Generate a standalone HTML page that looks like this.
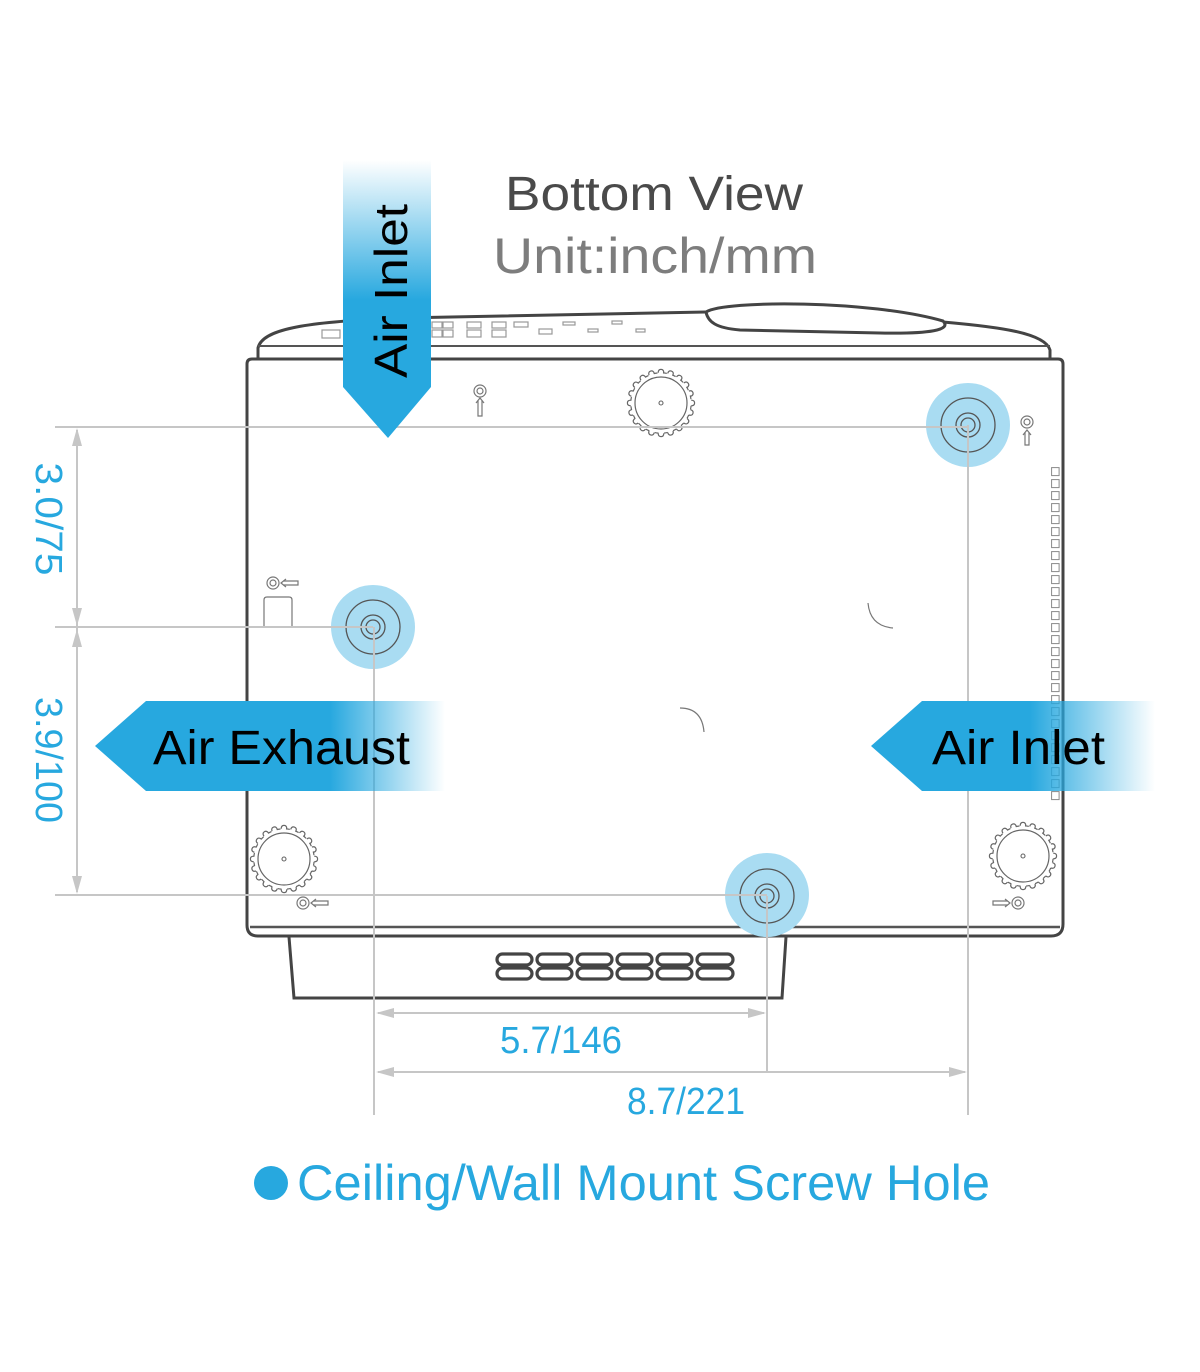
<!DOCTYPE html>
<html><head><meta charset="utf-8"><style>
html,body{margin:0;padding:0;background:#fff;}
svg{display:block;}
text{font-family:"Liberation Sans",sans-serif;}
</style></head><body>
<svg width="1200" height="1372" viewBox="0 0 1200 1372" xmlns="http://www.w3.org/2000/svg">
<defs>
<linearGradient id="gv" x1="0" y1="160" x2="0" y2="300" gradientUnits="userSpaceOnUse">
<stop offset="0" stop-color="#27a8df" stop-opacity="0"/>
<stop offset="1" stop-color="#27a8df" stop-opacity="1"/>
</linearGradient>
<linearGradient id="gl" x1="330" y1="0" x2="445" y2="0" gradientUnits="userSpaceOnUse">
<stop offset="0" stop-color="#27a8df" stop-opacity="1"/>
<stop offset="1" stop-color="#27a8df" stop-opacity="0"/>
</linearGradient>
<linearGradient id="gr" x1="1030" y1="0" x2="1155" y2="0" gradientUnits="userSpaceOnUse">
<stop offset="0" stop-color="#27a8df" stop-opacity="1"/>
<stop offset="1" stop-color="#27a8df" stop-opacity="0"/>
</linearGradient>
<pattern id="vs" x="1051" y="467" width="10" height="12" patternUnits="userSpaceOnUse">
<rect x="0.6" y="0.6" width="7.5" height="8" fill="none" stroke="#888" stroke-width="1"/>
</pattern>
<path id="tooth" d="M-2.8,-30.2 Q-2.8,-33.6 0,-33.6 Q2.8,-33.6 2.8,-30.2" fill="none" stroke="#666" stroke-width="1.2"/>
<g id="gear">
<use href="#tooth"/><use href="#tooth" transform="rotate(18)"/><use href="#tooth" transform="rotate(36)"/><use href="#tooth" transform="rotate(54)"/><use href="#tooth" transform="rotate(72)"/>
<use href="#tooth" transform="rotate(90)"/><use href="#tooth" transform="rotate(108)"/><use href="#tooth" transform="rotate(126)"/><use href="#tooth" transform="rotate(144)"/><use href="#tooth" transform="rotate(162)"/>
<use href="#tooth" transform="rotate(180)"/><use href="#tooth" transform="rotate(198)"/><use href="#tooth" transform="rotate(216)"/><use href="#tooth" transform="rotate(234)"/><use href="#tooth" transform="rotate(252)"/>
<use href="#tooth" transform="rotate(270)"/><use href="#tooth" transform="rotate(288)"/><use href="#tooth" transform="rotate(306)"/><use href="#tooth" transform="rotate(324)"/><use href="#tooth" transform="rotate(342)"/>
<circle r="30.2" fill="none" stroke="#666" stroke-width="1.2" stroke-dasharray="0 2.8 3.82 2.8"/>
<circle r="26" fill="none" stroke="#666" stroke-width="1.2"/>
<circle r="2" fill="none" stroke="#666" stroke-width="1.1"/>
</g>
</defs>

<!-- Title -->
<text x="654" y="210" text-anchor="middle" font-size="48" fill="#4a4a4a" textLength="298" lengthAdjust="spacingAndGlyphs">Bottom View</text>
<text x="655" y="273" text-anchor="middle" font-size="50" fill="#7d7d7d" textLength="324" lengthAdjust="spacingAndGlyphs">Unit:inch/mm</text>

<!-- top cap -->
<g fill="none" stroke="#444" stroke-width="3" stroke-linejoin="round">
<path d="M258,359 L258,348 C262,330 300,322 400,318 L706,312"/>
<path d="M706,312 C725,300 870,300 943,321 C952,330 930,334 880,333 L740,330 C716,328 708,322 706,312 Z"/>
<path d="M943,322 C1000,327 1045,333 1050,350 L1050,359"/>
</g>
<line x1="258" y1="346" x2="1050" y2="346" stroke="#555" stroke-width="2"/>
<!-- cap vents -->
<g fill="none" stroke="#999" stroke-width="1.2">
<rect x="322" y="330" width="18" height="8"/>
<rect x="432" y="322" width="10" height="6"/><rect x="443" y="322" width="10" height="6"/>
<rect x="432" y="330" width="10" height="7"/><rect x="443" y="330" width="10" height="7"/>
<rect x="467" y="322" width="14" height="6"/><rect x="467" y="330" width="14" height="7"/>
<rect x="492" y="322" width="14" height="6"/><rect x="492" y="330" width="14" height="7"/>
<rect x="514" y="322" width="14" height="5"/>
<rect x="539" y="329" width="13" height="5"/>
<rect x="563" y="322" width="12" height="3"/>
<rect x="588" y="329" width="10" height="3"/>
<rect x="612" y="321" width="10" height="3"/>
<rect x="636" y="329" width="9" height="3"/>
</g>

<!-- body -->
<path d="M252,359 L1058,359 Q1063,359 1063,364 L1063,924 Q1063,936 1051,936 L258,936 Q247,936 247,925 L247,364 Q247,359 252,359 Z" fill="none" stroke="#444" stroke-width="3"/>
<line x1="250" y1="927" x2="1060" y2="927" stroke="#555" stroke-width="2.5"/>
<!-- foot -->
<path d="M289,937 L294,998 L782,998 L786,937" fill="none" stroke="#444" stroke-width="3"/>
<g fill="none" stroke="#444" stroke-width="3.2">
<rect x="497" y="954" width="35" height="11" rx="5.5"/><rect x="537" y="954" width="35" height="11" rx="5.5"/><rect x="577" y="954" width="35" height="11" rx="5.5"/><rect x="617" y="954" width="35" height="11" rx="5.5"/><rect x="657" y="954" width="35" height="11" rx="5.5"/><rect x="697" y="954" width="36" height="11" rx="5.5"/>
<rect x="497" y="968" width="35" height="11" rx="5.5"/><rect x="537" y="968" width="35" height="11" rx="5.5"/><rect x="577" y="968" width="35" height="11" rx="5.5"/><rect x="617" y="968" width="35" height="11" rx="5.5"/><rect x="657" y="968" width="35" height="11" rx="5.5"/><rect x="697" y="968" width="36" height="11" rx="5.5"/>
</g>

<!-- right side vents -->
<rect x="1051" y="467" width="10" height="336" fill="url(#vs)"/>

<!-- gear feet -->
<use href="#gear" transform="translate(661,403)"/>
<use href="#gear" transform="translate(284,859)"/>
<use href="#gear" transform="translate(1023,856)"/>

<!-- small screw icons -->
<g fill="none" stroke="#777" stroke-width="1.2">
<circle cx="480" cy="391" r="6"/><circle cx="480" cy="391" r="3"/><path d="M478,400 L478,416 L482,416 L482,400 M476,403 L480,398 L484,403"/>
<circle cx="1027" cy="422" r="6"/><circle cx="1027" cy="422" r="3"/><path d="M1025,432 L1025,445 L1029,445 L1029,432 M1023,435 L1027,430 L1031,435"/>
<circle cx="273" cy="583" r="6"/><circle cx="273" cy="583" r="3"/><path d="M283,581 L298,581 L298,585 L283,585 M286,579 L281,583 L286,587"/>
<path d="M264,626 L264,600 Q264,597 267,597 L289,597 Q292,597 292,600 L292,626"/>
<circle cx="303" cy="903" r="6"/><circle cx="303" cy="903" r="3"/><path d="M313,901 L328,901 L328,905 L313,905 M316,899 L311,903 L316,907"/>
<circle cx="1018" cy="903" r="6"/><circle cx="1018" cy="903" r="3"/><path d="M1008,901 L993,901 L993,905 L1008,905 M1005,899 L1010,903 L1005,907"/>
<path d="M868,603 Q870,626 893,628"/>
<path d="M680,708 Q702,708 704,732"/>
</g>

<!-- mount holes -->
<g>
<circle cx="968" cy="425" r="42" fill="#a9dcf2"/>
<circle cx="373" cy="627" r="42" fill="#a9dcf2"/>
<ellipse cx="767" cy="895" rx="42" ry="42" fill="#a9dcf2"/>
</g>
<g fill="none" stroke="#555" stroke-width="1.3">
<circle cx="968" cy="425" r="27"/><circle cx="968" cy="425" r="12"/><circle cx="968" cy="425" r="7"/>
<circle cx="373" cy="627" r="27"/><circle cx="373" cy="627" r="12"/><circle cx="373" cy="627" r="7"/>
<circle cx="767" cy="896" r="27"/><circle cx="767" cy="896" r="12"/><circle cx="767" cy="896" r="7"/>
</g>

<!-- dimension lines -->
<g stroke="#c6c6c6" stroke-width="2" fill="none">
<line x1="55" y1="427" x2="968" y2="427"/>
<line x1="55" y1="627" x2="373" y2="627"/>
<line x1="55" y1="895" x2="767" y2="895"/>
<line x1="77" y1="430" x2="77" y2="892"/>
<line x1="374" y1="627" x2="374" y2="1115"/>
<line x1="767" y1="896" x2="767" y2="1072"/>
<line x1="968" y1="425" x2="968" y2="1115"/>
<line x1="378" y1="1013" x2="764" y2="1013"/>
<line x1="378" y1="1072" x2="965" y2="1072"/>
</g>
<g fill="#c6c6c6">
<path d="M77,428 L72,446 L82,446 Z"/>
<path d="M77,626 L72,608 L82,608 Z"/>
<path d="M77,629 L72,647 L82,647 Z"/>
<path d="M77,894 L72,876 L82,876 Z"/>
<path d="M376,1013 L394,1008 L394,1018 Z"/>
<path d="M766,1013 L748,1008 L748,1018 Z"/>
<path d="M376,1072 L394,1067 L394,1077 Z"/>
<path d="M967,1072 L949,1067 L949,1077 Z"/>
</g>

<!-- dim labels -->
<g fill="#27a8df">
<text transform="translate(36,519) rotate(90)" text-anchor="middle" font-size="38" textLength="113" lengthAdjust="spacingAndGlyphs">3.0/75</text>
<text transform="translate(36,760) rotate(90)" text-anchor="middle" font-size="38" textLength="126" lengthAdjust="spacingAndGlyphs">3.9/100</text>
<text x="561" y="1053" text-anchor="middle" font-size="38" textLength="122" lengthAdjust="spacingAndGlyphs">5.7/146</text>
<text x="686" y="1114" text-anchor="middle" font-size="38" textLength="118" lengthAdjust="spacingAndGlyphs">8.7/221</text>
</g>

<!-- arrows -->
<path d="M343,160 L431,160 L431,387 L388,438 L343,387 Z" fill="url(#gv)"/>
<text transform="translate(407,291) rotate(-90)" text-anchor="middle" font-size="46" fill="#000" textLength="174" lengthAdjust="spacingAndGlyphs">Air Inlet</text>

<path d="M95,746 L146,701 L445,701 L445,791 L146,791 Z" fill="url(#gl)"/>
<text x="153" y="764" font-size="48" fill="#000" textLength="257" lengthAdjust="spacingAndGlyphs">Air Exhaust</text>

<path d="M871,746 L922,701 L1155,701 L1155,791 L922,791 Z" fill="url(#gr)"/>
<text x="932" y="764" font-size="48" fill="#000" textLength="173" lengthAdjust="spacingAndGlyphs">Air Inlet</text>

<!-- legend -->
<circle cx="271" cy="1183" r="17" fill="#27a8df"/>
<text x="297" y="1200" font-size="50" fill="#27a8df" textLength="693" lengthAdjust="spacingAndGlyphs">Ceiling/Wall Mount Screw Hole</text>
</svg>
</body></html>
